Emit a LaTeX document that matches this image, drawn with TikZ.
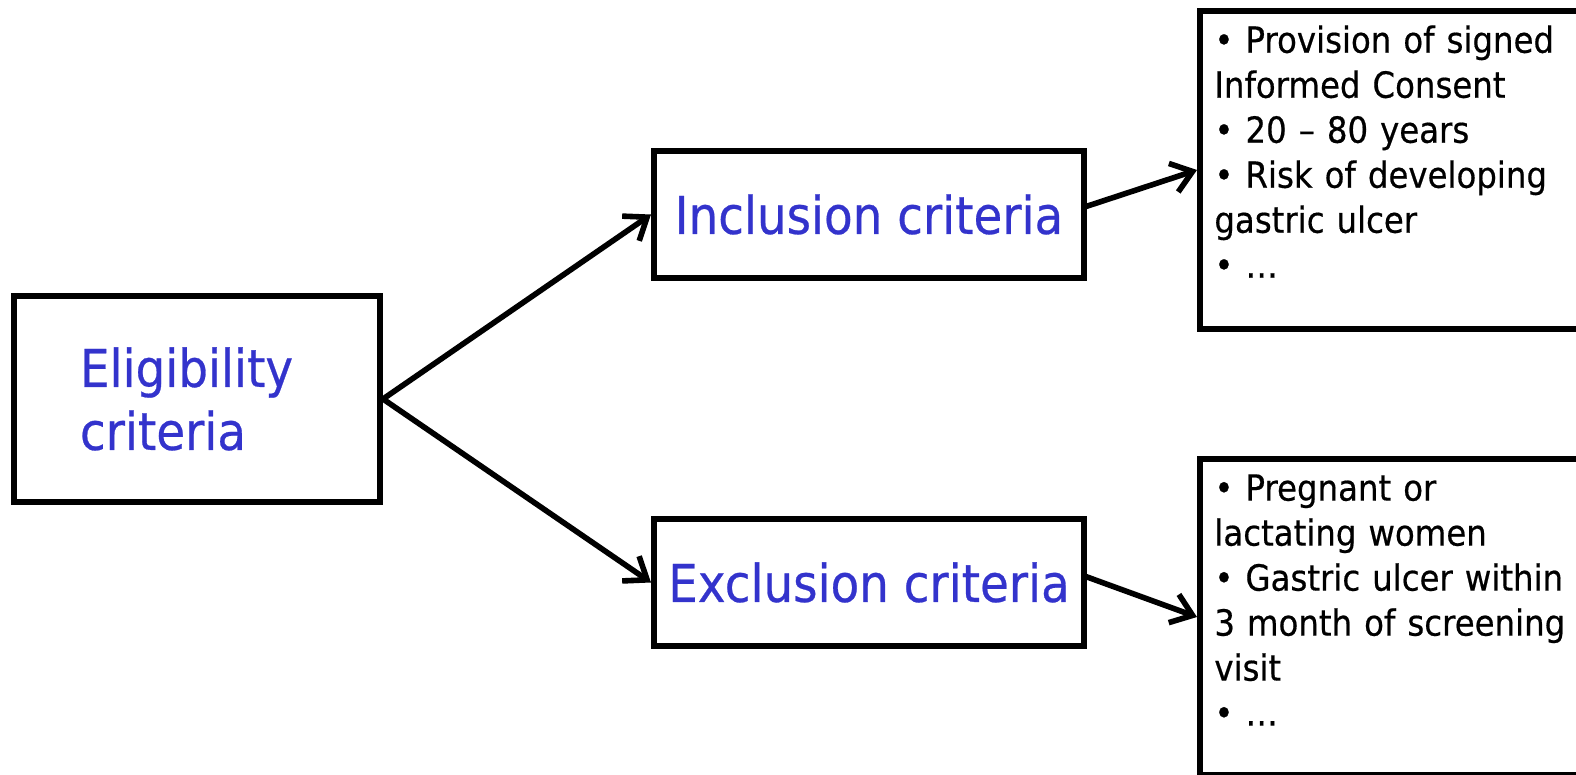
\documentclass[tikz,border=0pt]{standalone}
\usepackage{fontspec}
\setmainfont[FakeStretch=0.9,FakeBold=0.5]{DejaVu Sans}
\usetikzlibrary{arrows.meta,positioning}
\definecolor{critblue}{RGB}{51,51,204}

\begin{document}
\begin{tikzpicture}[x=0.5pt, y=-0.5pt,
	critbox/.style={draw, line width=3pt, inner sep=0pt},
	bigtext/.style={text=critblue, font=\fontsize{26}{31.5}\selectfont},
	listtext/.style={font=\fontsize{18}{22.5}\selectfont, align=left, inner sep=0pt, anchor=north west, text width=190pt},
	arr/.style={line width=2.8pt, -{Straight Barb[length=10pt,width=15pt]}}]
	\useasboundingbox (0,0) rectangle (1576,775);
	
	\node[critbox, bigtext, minimum width=183pt, minimum height=103pt, text width=117pt, inner xsep=33pt, align=left] (elig) at (197,399) {Eligibility\\criteria};
	\node[critbox, bigtext, minimum width=215pt, minimum height=63.5pt] (incl) at (869,214.5) {Inclusion criteria};
	\node[critbox, bigtext, minimum width=215pt, minimum height=63.5pt] (excl) at (869,582.5) {Exclusion criteria};
	
	% lists run off the right edge
	\node[critbox, anchor=north west, minimum width=200pt, minimum height=159pt] (incllist) at (1197,8) {};
	\node[critbox, anchor=north west, minimum width=200pt, minimum height=158pt] (excllist) at (1197,456) {};
	\node[listtext] (incltext) at ([xshift=8.5pt,yshift=-8.5pt]incllist.north west) {• Provision of signed\\Informed Consent\\• 20 – 80 years\\• Risk of developing\\gastric ulcer\\• …};
	\node[listtext] (excltext) at ([xshift=8.5pt,yshift=-9pt]excllist.north west) {• Pregnant or\\lactating women\\• Gastric ulcer within\\3 month of screening\\visit\\• …};
	
	\draw[arr] (elig.east) -- (incl.west);
	\draw[arr] (elig.east) -- (excl.west);
	\draw[arr] ([xshift=-2pt,yshift=3.5pt]incl.east) -- (incllist.west);
	\draw[arr] ([xshift=-2pt,yshift=3.5pt]excl.east) -- (excllist.west);
\end{tikzpicture}
\end{document}
